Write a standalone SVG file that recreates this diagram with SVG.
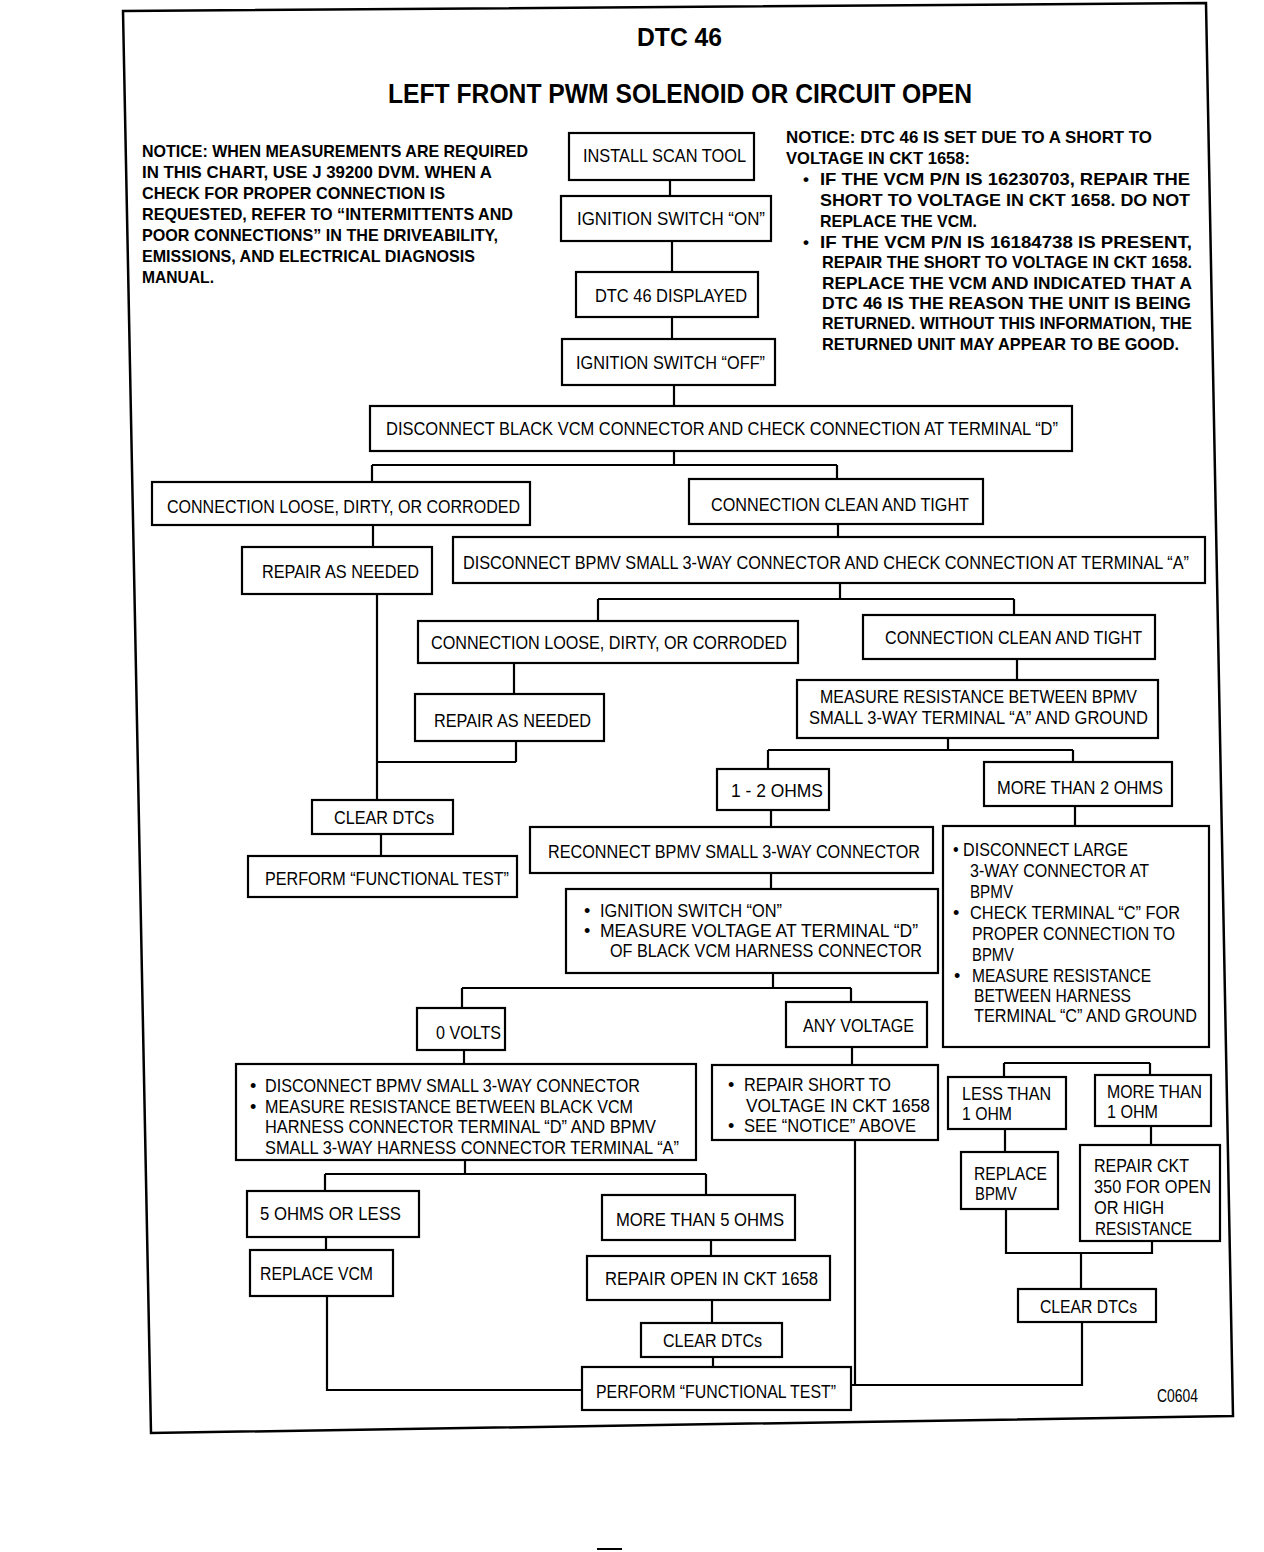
<svg xmlns="http://www.w3.org/2000/svg" width="1264" height="1552" viewBox="0 0 1264 1552">
<style>
.box{fill:#fff;stroke:#000;stroke-width:2.2}
.t{font-family:"Liberation Sans",Arial,Helvetica,sans-serif;font-size:18px;fill:#000}
.n{font-family:"Liberation Sans",Arial,Helvetica,sans-serif;font-size:17px;font-weight:bold;fill:#000}
.h{font-family:"Liberation Sans",Arial,Helvetica,sans-serif;font-weight:bold;fill:#000}
.c{fill:none;stroke:#000;stroke-width:2.2}
</style>
<rect width="1264" height="1552" fill="#fff"/>
<polygon points="123,11 1206,3 1233,1416 151,1433" fill="none" stroke="#000" stroke-width="2.5"/>
<line x1="597" y1="1549" x2="622" y2="1549" stroke="#000" stroke-width="2"/>

<g id="title">
<text class="h" x="637" y="46" font-size="26" textLength="85" lengthAdjust="spacingAndGlyphs">DTC 46</text>
<text class="h" x="388" y="103" font-size="27" textLength="584" lengthAdjust="spacingAndGlyphs">LEFT FRONT PWM SOLENOID OR CIRCUIT OPEN</text>
</g>

<g id="notice-left" class="n">
<text x="142" y="157" textLength="386" lengthAdjust="spacingAndGlyphs">NOTICE: WHEN MEASUREMENTS ARE REQUIRED</text>
<text x="142" y="178" textLength="350" lengthAdjust="spacingAndGlyphs">IN THIS CHART, USE J 39200 DVM. WHEN A</text>
<text x="142" y="199" textLength="303" lengthAdjust="spacingAndGlyphs">CHECK FOR PROPER CONNECTION IS</text>
<text x="142" y="220" textLength="371" lengthAdjust="spacingAndGlyphs">REQUESTED, REFER TO “INTERMITTENTS AND</text>
<text x="142" y="241" textLength="356" lengthAdjust="spacingAndGlyphs">POOR CONNECTIONS” IN THE DRIVEABILITY,</text>
<text x="142" y="262" textLength="333" lengthAdjust="spacingAndGlyphs">EMISSIONS, AND ELECTRICAL DIAGNOSIS</text>
<text x="142" y="283" textLength="72" lengthAdjust="spacingAndGlyphs">MANUAL.</text>
</g>

<g id="notice-right" class="n">
<text x="786" y="143" textLength="366" lengthAdjust="spacingAndGlyphs">NOTICE: DTC 46 IS SET DUE TO A SHORT TO</text>
<text x="786" y="164" textLength="184" lengthAdjust="spacingAndGlyphs">VOLTAGE IN CKT 1658:</text>
<text x="803" y="185">•</text>
<text x="820" y="185" textLength="370" lengthAdjust="spacingAndGlyphs">IF THE VCM P/N IS 16230703, REPAIR THE</text>
<text x="820" y="206" textLength="370" lengthAdjust="spacingAndGlyphs">SHORT TO VOLTAGE IN CKT 1658. DO NOT</text>
<text x="820" y="227" textLength="157" lengthAdjust="spacingAndGlyphs">REPLACE THE VCM.</text>
<text x="803" y="248">•</text>
<text x="820" y="248" textLength="372" lengthAdjust="spacingAndGlyphs">IF THE VCM P/N IS 16184738 IS PRESENT,</text>
<text x="822" y="268" textLength="370" lengthAdjust="spacingAndGlyphs">REPAIR THE SHORT TO VOLTAGE IN CKT 1658.</text>
<text x="822" y="289" textLength="370" lengthAdjust="spacingAndGlyphs">REPLACE THE VCM AND INDICATED THAT A</text>
<text x="822" y="309" textLength="369" lengthAdjust="spacingAndGlyphs">DTC 46 IS THE REASON THE UNIT IS BEING</text>
<text x="822" y="329" textLength="370" lengthAdjust="spacingAndGlyphs">RETURNED. WITHOUT THIS INFORMATION, THE</text>
<text x="822" y="350" textLength="357" lengthAdjust="spacingAndGlyphs">RETURNED UNIT MAY APPEAR TO BE GOOD.</text>
</g>

<g id="connectors" class="c">
<path d="M670,180V196M672,241V272M672,317V339M674,385V406"/>
<path d="M674,451V465M372,465H837M372,465V482M837,465V479"/>
<path d="M373,525V547M377,594V800M377,762H516M516,741V762M381,834V856"/>
<path d="M838,524V537M840,583V599M598,599H1014M598,599V621M1014,599V615"/>
<path d="M514,663V694M1017,659V680"/>
<path d="M948,738V750M768,750H1073M768,750V769M1073,750V762"/>
<path d="M771,810V827M1075,806V826M771,873V889"/>
<path d="M773,973V988M462,988H851M462,988V1008M851,988V1002"/>
<path d="M464,1050V1064M852,1047V1065"/>
<path d="M465,1160V1174M325,1174H706M325,1174V1191M706,1174V1195"/>
<path d="M326,1237V1250M327,1296V1390H582"/>
<path d="M711,1240V1256M712,1300V1323M713,1357V1367"/>
<path d="M855,1140V1385M851,1385H1082V1322"/>
<path d="M1004,1063H1150M1004,1063V1077M1150,1063V1075"/>
<path d="M1005,1129V1152M1151,1126V1145"/>
<path d="M1006,1209V1253H1152V1241M1081,1253V1289"/>
</g>

<g id="n1"><rect class="box" x="569" y="133" width="185" height="47"/><text class="t" x="583" y="162" textLength="163" lengthAdjust="spacingAndGlyphs">INSTALL SCAN TOOL</text></g>
<g id="n2"><rect class="box" x="561" y="196" width="210" height="45"/><text class="t" x="577" y="225" textLength="188" lengthAdjust="spacingAndGlyphs">IGNITION SWITCH “ON”</text></g>
<g id="n3"><rect class="box" x="576" y="272" width="182" height="45"/><text class="t" x="595" y="302" textLength="152" lengthAdjust="spacingAndGlyphs">DTC 46 DISPLAYED</text></g>
<g id="n4"><rect class="box" x="562" y="339" width="213" height="46"/><text class="t" x="576" y="369" textLength="189" lengthAdjust="spacingAndGlyphs">IGNITION SWITCH “OFF”</text></g>
<g id="n5"><rect class="box" x="370" y="406" width="702" height="45"/><text class="t" x="386" y="435" textLength="672" lengthAdjust="spacingAndGlyphs">DISCONNECT BLACK VCM CONNECTOR AND CHECK CONNECTION AT TERMINAL “D”</text></g>
<g id="n6"><rect class="box" x="152" y="482" width="378" height="43"/><text class="t" x="167" y="513" textLength="353" lengthAdjust="spacingAndGlyphs">CONNECTION LOOSE, DIRTY, OR CORRODED</text></g>
<g id="n7"><rect class="box" x="689" y="479" width="294" height="45"/><text class="t" x="711" y="511" textLength="258" lengthAdjust="spacingAndGlyphs">CONNECTION CLEAN AND TIGHT</text></g>
<g id="n8"><rect class="box" x="453" y="537" width="752" height="46"/><text class="t" x="463" y="569" font-size="16.5" textLength="726" lengthAdjust="spacingAndGlyphs">DISCONNECT BPMV SMALL 3-WAY CONNECTOR AND CHECK CONNECTION AT TERMINAL “A”</text></g>
<g id="n9"><rect class="box" x="418" y="621" width="380" height="42"/><text class="t" x="431" y="649" textLength="356" lengthAdjust="spacingAndGlyphs">CONNECTION LOOSE, DIRTY, OR CORRODED</text></g>
<g id="n10"><rect class="box" x="863" y="615" width="292" height="44"/><text class="t" x="885" y="644" textLength="257" lengthAdjust="spacingAndGlyphs">CONNECTION CLEAN AND TIGHT</text></g>
<g id="n11"><rect class="box" x="415" y="694" width="189" height="47"/><text class="t" x="434" y="727" textLength="157" lengthAdjust="spacingAndGlyphs">REPAIR AS NEEDED</text></g>
<g id="n12"><rect class="box" x="797" y="680" width="361" height="58"/><text class="t" x="820" y="703" textLength="317" lengthAdjust="spacingAndGlyphs">MEASURE RESISTANCE BETWEEN BPMV</text><text class="t" x="809" y="724" textLength="339" lengthAdjust="spacingAndGlyphs">SMALL 3-WAY TERMINAL “A” AND GROUND</text></g>
<g id="n13"><rect class="box" x="717" y="769" width="112" height="41"/><text class="t" x="731" y="797" textLength="92" lengthAdjust="spacingAndGlyphs">1 - 2 OHMS</text></g>
<g id="n14"><rect class="box" x="984" y="762" width="188" height="44"/><text class="t" x="997" y="794" textLength="166" lengthAdjust="spacingAndGlyphs">MORE THAN 2 OHMS</text></g>
<g id="n15"><rect class="box" x="530" y="827" width="403" height="46"/><text class="t" x="548" y="858" textLength="372" lengthAdjust="spacingAndGlyphs">RECONNECT BPMV SMALL 3-WAY CONNECTOR</text></g>
<g id="n16"><rect class="box" x="943" y="826" width="266" height="221"/>
<text class="t" x="953" y="856" textLength="175" lengthAdjust="spacingAndGlyphs">•   DISCONNECT LARGE</text>
<text class="t" x="970" y="877" textLength="179" lengthAdjust="spacingAndGlyphs">3-WAY CONNECTOR AT</text>
<text class="t" x="970" y="898" textLength="43" lengthAdjust="spacingAndGlyphs">BPMV</text>
<text class="t" x="953" y="919">•</text><text class="t" x="970" y="919" textLength="210" lengthAdjust="spacingAndGlyphs">CHECK TERMINAL “C” FOR</text>
<text class="t" x="972" y="940" textLength="203" lengthAdjust="spacingAndGlyphs">PROPER CONNECTION TO</text>
<text class="t" x="972" y="961" textLength="42" lengthAdjust="spacingAndGlyphs">BPMV</text>
<text class="t" x="954" y="982">•</text><text class="t" x="972" y="982" textLength="179" lengthAdjust="spacingAndGlyphs">MEASURE RESISTANCE</text>
<text class="t" x="974" y="1002" textLength="157" lengthAdjust="spacingAndGlyphs">BETWEEN HARNESS</text>
<text class="t" x="974" y="1022" textLength="223" lengthAdjust="spacingAndGlyphs">TERMINAL “C” AND GROUND</text></g>
<g id="n17"><rect class="box" x="566" y="889" width="372" height="84"/>
<text class="t" x="584" y="917">•</text><text class="t" x="600" y="917" textLength="182" lengthAdjust="spacingAndGlyphs">IGNITION SWITCH “ON”</text>
<text class="t" x="584" y="937">•</text><text class="t" x="600" y="937" textLength="318" lengthAdjust="spacingAndGlyphs">MEASURE VOLTAGE AT TERMINAL “D”</text>
<text class="t" x="610" y="957" textLength="312" lengthAdjust="spacingAndGlyphs">OF BLACK VCM HARNESS CONNECTOR</text></g>
<g id="n18"><rect class="box" x="417" y="1008" width="88" height="42"/><text class="t" x="436" y="1039" textLength="65" lengthAdjust="spacingAndGlyphs">0 VOLTS</text></g>
<g id="n19"><rect class="box" x="786" y="1002" width="141" height="45"/><text class="t" x="803" y="1032" textLength="111" lengthAdjust="spacingAndGlyphs">ANY VOLTAGE</text></g>
<g id="n20"><rect class="box" x="236" y="1064" width="460" height="96"/>
<text class="t" x="250" y="1092">•</text><text class="t" x="265" y="1092" textLength="375" lengthAdjust="spacingAndGlyphs">DISCONNECT BPMV SMALL 3-WAY CONNECTOR</text>
<text class="t" x="250" y="1113">•</text><text class="t" x="265" y="1113" textLength="368" lengthAdjust="spacingAndGlyphs">MEASURE RESISTANCE BETWEEN BLACK VCM</text>
<text class="t" x="265" y="1133" textLength="391" lengthAdjust="spacingAndGlyphs">HARNESS CONNECTOR TERMINAL “D” AND BPMV</text>
<text class="t" x="265" y="1154" textLength="414" lengthAdjust="spacingAndGlyphs">SMALL 3-WAY HARNESS CONNECTOR TERMINAL “A”</text></g>
<g id="n21"><rect class="box" x="712" y="1065" width="226" height="75"/>
<text class="t" x="728" y="1091">•</text><text class="t" x="744" y="1091" textLength="147" lengthAdjust="spacingAndGlyphs">REPAIR SHORT TO</text>
<text class="t" x="746" y="1112" textLength="184" lengthAdjust="spacingAndGlyphs">VOLTAGE   IN CKT 1658</text>
<text class="t" x="728" y="1132">•</text><text class="t" x="744" y="1132" textLength="172" lengthAdjust="spacingAndGlyphs">SEE “NOTICE” ABOVE</text></g>
<g id="n22"><rect class="box" x="948" y="1077" width="118" height="52"/><text class="t" x="962" y="1100" textLength="89" lengthAdjust="spacingAndGlyphs">LESS THAN</text><text class="t" x="962" y="1120" textLength="50" lengthAdjust="spacingAndGlyphs">1 OHM</text></g>
<g id="n23"><rect class="box" x="1095" y="1075" width="116" height="51"/><text class="t" x="1107" y="1098" textLength="95" lengthAdjust="spacingAndGlyphs">MORE THAN</text><text class="t" x="1107" y="1118" textLength="51" lengthAdjust="spacingAndGlyphs">1 OHM</text></g>
<g id="n24"><rect class="box" x="961" y="1152" width="97" height="57"/><text class="t" x="974" y="1180" textLength="73" lengthAdjust="spacingAndGlyphs">REPLACE</text><text class="t" x="975" y="1200" textLength="42" lengthAdjust="spacingAndGlyphs">BPMV</text></g>
<g id="n25"><rect class="box" x="1080" y="1145" width="140" height="96"/>
<text class="t" x="1094" y="1172" textLength="95" lengthAdjust="spacingAndGlyphs">REPAIR CKT</text>
<text class="t" x="1094" y="1193" textLength="117" lengthAdjust="spacingAndGlyphs">350 FOR OPEN</text>
<text class="t" x="1094" y="1214" textLength="70" lengthAdjust="spacingAndGlyphs">OR HIGH</text>
<text class="t" x="1095" y="1235" textLength="97" lengthAdjust="spacingAndGlyphs">RESISTANCE</text></g>
<g id="n26"><rect class="box" x="1018" y="1289" width="138" height="33"/><text class="t" x="1040" y="1313" textLength="97" lengthAdjust="spacingAndGlyphs">CLEAR DTCs</text></g>
<g id="n27"><rect class="box" x="247" y="1191" width="172" height="46"/><text class="t" x="260" y="1220" textLength="141" lengthAdjust="spacingAndGlyphs">5 OHMS OR LESS</text></g>
<g id="n28"><rect class="box" x="250" y="1250" width="143" height="46"/><text class="t" x="260" y="1280" textLength="113" lengthAdjust="spacingAndGlyphs">REPLACE VCM</text></g>
<g id="n29"><rect class="box" x="602" y="1195" width="193" height="45"/><text class="t" x="616" y="1226" textLength="168" lengthAdjust="spacingAndGlyphs">MORE THAN 5 OHMS</text></g>
<g id="n30"><rect class="box" x="587" y="1256" width="243" height="44"/><text class="t" x="605" y="1285" textLength="213" lengthAdjust="spacingAndGlyphs">REPAIR OPEN IN CKT 1658</text></g>
<g id="n31"><rect class="box" x="641" y="1323" width="141" height="34"/><text class="t" x="663" y="1347" textLength="99" lengthAdjust="spacingAndGlyphs">CLEAR DTCs</text></g>
<g id="n32"><rect class="box" x="582" y="1367" width="269" height="43"/><text class="t" x="596" y="1398" textLength="240" lengthAdjust="spacingAndGlyphs">PERFORM “FUNCTIONAL TEST”</text></g>
<g id="n33"><rect class="box" x="312" y="800" width="141" height="34"/><text class="t" x="334" y="824" textLength="100" lengthAdjust="spacingAndGlyphs">CLEAR DTCs</text></g>
<g id="n34"><rect class="box" x="248" y="856" width="269" height="41"/><text class="t" x="265" y="885" textLength="244" lengthAdjust="spacingAndGlyphs">PERFORM “FUNCTIONAL TEST”</text></g>
<g id="n35"><rect class="box" x="242" y="547" width="190" height="47"/><text class="t" x="262" y="578" textLength="157" lengthAdjust="spacingAndGlyphs">REPAIR AS NEEDED</text></g>

<g id="code"><text class="t" x="1157" y="1402" font-size="16" textLength="41" lengthAdjust="spacingAndGlyphs">C0604</text></g>
</svg>
